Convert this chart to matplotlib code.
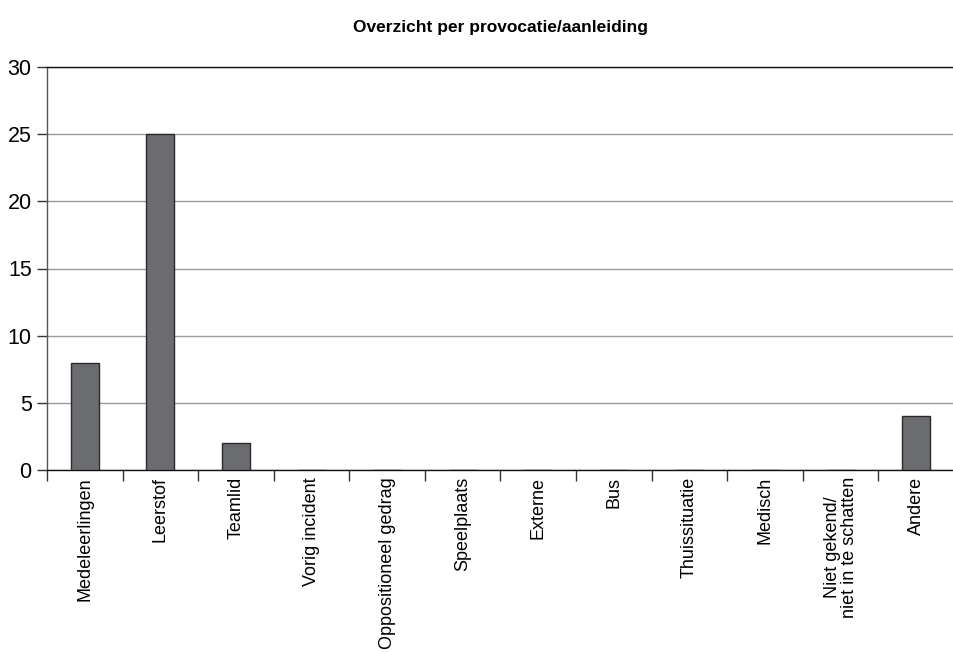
import matplotlib as mpl
mpl.use('Agg')
import matplotlib.pyplot as plt
import numpy as np

categories = ['Medeleerlingen', 'Leerstof', 'Teamlid', 'Vorig incident',
              'Oppositioneel gedrag', 'Speelplaats', 'Externe', 'Bus',
              'Thuissituatie', 'Medisch', 'Niet gekend/\nniet in te schatten',
              'Andere']
counts = [8, 25, 2, 0, 0, 0, 0, 0, 0, 0, 0, 4]
yticks = [0, 5, 10, 15, 20, 25, 30]

plt.rcParams['font.family'] = ['Liberation Sans', 'DejaVu Sans']

fig = plt.figure(figsize=(9.54, 6.52), dpi=100)
ax = fig.add_axes([47 / 954, 1 - 470 / 652, 1 - 47 / 954, (470 - 67) / 652])

x = np.arange(len(categories))
ax.bar(x, counts, width=0.37, color='#6b6c70', edgecolor='#2a2a2a',
       linewidth=1.0, zorder=3)

ax.set_xlim(-0.5, len(categories) - 0.5)
ax.set_ylim(0, 30)
ax.set_yticks(yticks)
ax.set_yticklabels([str(v) for v in yticks], fontsize=15.5)
ax.yaxis.grid(True, color='#9a9a9a', linewidth=1.0, zorder=0)
ax.tick_params(axis='y', length=7, width=1.0, color='#333333', pad=4)

# ticks sit on the category boundaries, labels at the centres
ax.set_xticks(np.arange(len(categories) + 1) - 0.5)
ax.set_xticklabels([])
ax.tick_params(axis='x', which='major', length=8, width=1.0, color='#333333',
               direction='out')
ax.set_xticks(x, minor=True)
ax.set_xticklabels(categories, minor=True, rotation=90, fontsize=13,
                   linespacing=1.0, va='top', ha='center')
ax.tick_params(axis='x', which='minor', length=0, pad=5)

ax.spines['top'].set_color('#111111')
ax.spines['bottom'].set_color('#111111')
ax.spines['left'].set_color('#555555')
ax.spines['right'].set_visible(False)
for s in ax.spines.values():
    s.set_linewidth(1.0)

ax.set_title('Overzicht per provocatie/aanleiding', fontsize=12.5,
             fontweight='bold', pad=25)

plt.savefig('out.png', dpi=100)
